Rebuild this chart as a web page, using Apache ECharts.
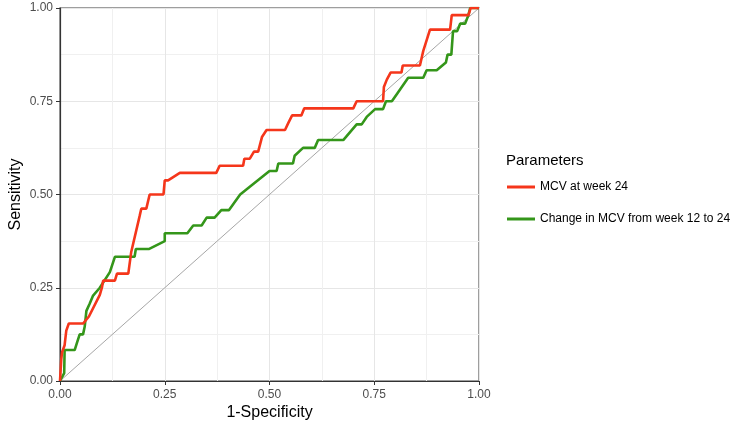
<!DOCTYPE html>
<html>
<head>
<meta charset="utf-8">
<script src="https://cdn.jsdelivr.net/npm/echarts@6/dist/echarts.min.js"></script>
<style>
  html, body { margin: 0; padding: 0; background: #fff; }
  #chart { width: 750px; height: 429px; }
</style>
</head>
<body>
<div id="chart"></div>
<script>
  // ROC points (1-specificity, sensitivity)
  const mcvFpr = [0, 0.003, 0.005, 0.011, 0.015, 0.021, 0.055, 0.069, 0.095, 0.100, 0.103, 0.131, 0.136, 0.163, 0.170, 0.190, 0.194, 0.206, 0.214, 0.247, 0.250, 0.258, 0.286, 0.373, 0.381, 0.437, 0.440, 0.453, 0.463, 0.473, 0.482, 0.493, 0.537, 0.545, 0.554, 0.576, 0.583, 0.700, 0.708, 0.771, 0.773, 0.780, 0.789, 0.815, 0.818, 0.859, 0.867, 0.883, 0.931, 0.935, 0.975, 0.980, 1]
  const mcvTpr = [0, 0.058, 0.077, 0.096, 0.135, 0.154, 0.154, 0.173, 0.231, 0.250, 0.269, 0.269, 0.288, 0.288, 0.346, 0.442, 0.462, 0.462, 0.500, 0.500, 0.538, 0.538, 0.558, 0.558, 0.577, 0.577, 0.596, 0.596, 0.615, 0.615, 0.654, 0.673, 0.673, 0.692, 0.712, 0.712, 0.731, 0.731, 0.750, 0.750, 0.788, 0.808, 0.827, 0.827, 0.846, 0.846, 0.885, 0.942, 0.942, 0.981, 0.981, 1, 1]

  const chgFpr = [0, 0.010, 0.011, 0.035, 0.041, 0.047, 0.055, 0.059, 0.063, 0.071, 0.079, 0.095, 0.119, 0.131, 0.178, 0.181, 0.213, 0.250, 0.250, 0.304, 0.318, 0.338, 0.350, 0.369, 0.385, 0.403, 0.430, 0.453, 0.500, 0.517, 0.521, 0.556, 0.560, 0.580, 0.608, 0.616, 0.676, 0.708, 0.720, 0.732, 0.752, 0.771, 0.778, 0.792, 0.805, 0.831, 0.867, 0.875, 0.899, 0.921, 0.925, 0.934, 0.938, 0.948, 0.955, 0.967, 0.974, 0.979, 1]
  const chgTpr = [0, 0.021, 0.083, 0.083, 0.104, 0.125, 0.125, 0.146, 0.188, 0.208, 0.229, 0.250, 0.292, 0.333, 0.333, 0.354, 0.354, 0.375, 0.396, 0.396, 0.417, 0.417, 0.438, 0.438, 0.458, 0.458, 0.500, 0.521, 0.563, 0.563, 0.583, 0.583, 0.604, 0.625, 0.625, 0.646, 0.646, 0.688, 0.688, 0.708, 0.729, 0.729, 0.750, 0.750, 0.771, 0.813, 0.813, 0.833, 0.833, 0.854, 0.875, 0.875, 0.938, 0.938, 0.958, 0.958, 0.979, 1, 1]

  const refLine = [[0, 0], [1, 1]]
  const tickLabels = ['0.00', '0.25', '0.50', '0.75', '1.00']
  const seriesNames = ['MCV at week 24', 'Change in MCV from week 12 to 24']

  const zip = (xs, ys) => xs.map((x, i) => [x, ys[i]])

  const font = 'Liberation Sans, Arial, sans-serif'
  const axisBase = {
    type: 'value',
    min: 0,
    max: 1,
    interval: 0.25,
    axisLine: { show: true, onZero: false, lineStyle: { color: '#333', width: 1.2 } },
    axisTick: { show: true, length: 4, lineStyle: { color: '#333' } },
    axisLabel: {
      color: '#4d4d4d',
      fontSize: 12,
      fontFamily: font,
      formatter: v => tickLabels[Math.round(v * 4)]
    },
    splitLine: { show: true, lineStyle: { color: '#e6e6e6', width: 1 } },
    minorTick: { show: false, splitNumber: 2 },
    minorSplitLine: { show: true, lineStyle: { color: '#f0f0f0', width: 1 } },
    nameLocation: 'middle',
    nameMoveOverlap: false,
    nameTextStyle: { color: '#000', fontSize: 16, fontFamily: font }
  }

  const chart = echarts.init(document.getElementById('chart'))
  chart.setOption({
    animation: false,
    backgroundColor: '#fff',
    grid: {
      left: 60,
      top: 8,
      right: 271,
      bottom: 48,
      outerBoundsMode: 'none',
      show: true,
      borderColor: '#7f7f7f',
      borderWidth: 1.5
    },
    legend: {
      orient: 'vertical',
      left: 502,
      top: 176,
      itemWidth: 28,
      itemHeight: 3,
      itemGap: 20,
      icon: 'rect',
      data: seriesNames,
      textStyle: { color: '#000', fontSize: 12, fontFamily: font }
    },
    title: {
      text: 'Parameters',
      left: 501,
      top: 148,
      textStyle: { color: '#000', fontSize: 15, fontWeight: 'normal', fontFamily: font }
    },
    xAxis: Object.assign({}, axisBase, {
      name: '1-Specificity',
      nameGap: 24,
      axisLabel: Object.assign({}, axisBase.axisLabel, { margin: 8 })
    }),
    yAxis: Object.assign({}, axisBase, {
      name: 'Sensitivity',
      nameGap: 36,
      axisLabel: Object.assign({}, axisBase.axisLabel, { margin: 7 })
    }),
    series: [
      {
        type: 'line',
        data: refLine,
        symbol: 'none',
        silent: true,
        lineStyle: { color: '#a6a6a6', width: 1 },
        z: 1
      },
      {
        name: seriesNames[0],
        type: 'line',
        data: zip(mcvFpr, mcvTpr),
        symbol: 'none',
        color: '#f5361b',
        lineStyle: { width: 2.6 },
        z: 3
      },
      {
        name: seriesNames[1],
        type: 'line',
        data: zip(chgFpr, chgTpr),
        symbol: 'none',
        color: '#34961a',
        lineStyle: { width: 2.6 },
        z: 2
      }
    ]
  })
</script>
</body>
</html>
